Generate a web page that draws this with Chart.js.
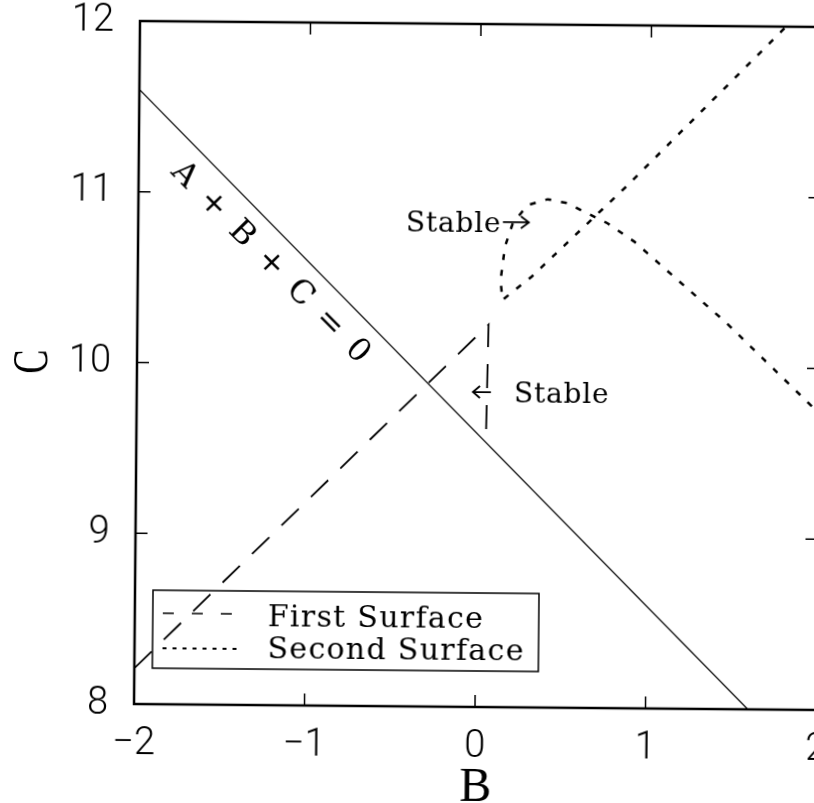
<!DOCTYPE html>
<html>
<head>
<meta charset="utf-8">
<title>C versus B</title>
<script src="https://cdn.jsdelivr.net/npm/chart.js@4.4.0/dist/chart.umd.min.js"></script>
<style>
    html, body { margin: 0; padding: 0; background: #fff; overflow: hidden; width: 814px; height: 803px; }
    /* the scanned figure sits slightly tilted */
    #wrap { position: absolute; left: 0; top: 0; width: 840px; height: 803px; transform: rotate(0.5deg); transform-origin: 478px 365px; }
    canvas { display: block; }
</style>
</head>
<body>
<div id="wrap"><canvas id="chart" width="840" height="803"></canvas></div>
<script>
// Axis ticks
const xTicks = [-2, -1, 0, 1, 2];
const yTicks = [8, 9, 10, 11, 12];

// A + B + C = 0 (solid)
const sumB = [-2.0, 1.6];
const sumC = [11.6, 8.0];

// First Surface (dashed)
const firstB = [-2.0, 0.06, 0.05];
const firstC = [8.21, 10.24, 9.56];

// Second Surface (dotted)
const secondB = [1.78, 0.86, 0.31, 0.14, 0.128, 0.152, 0.197, 0.283, 0.40, 0.517, 0.614, 0.753, 0.911, 1.167, 1.457, 2.0];
const secondC = [11.99, 11.055, 10.523, 10.385, 10.50, 10.697, 10.835, 10.942, 10.977, 10.955, 10.906, 10.839, 10.733, 10.511, 10.26, 9.74];

const seriesNames = ['A + B + C = 0', 'First Surface', 'Second Surface'];

const serif = '"DejaVu Serif", "Liberation Serif", serif';
const tickFont = { family: 'Roboto, "Liberation Sans", sans-serif', size: 38, weight: 300 };

function toPoints(xs, ys) {
    return xs.map((v, i) => ({ x: v, y: ys[i] }));
}

function fmt(v) {
    return v < 0 ? '\u2212' + Math.abs(v) : String(v);
}

// Frame, inward ticks, labels and legend
const annotate = {
    id: 'annotate',
    beforeDraw(chart) {
        const ctx = chart.ctx;
        ctx.save();
        ctx.fillStyle = '#fff';
        ctx.fillRect(0, 0, chart.width, chart.height);
        ctx.restore();
    },
    afterDraw(chart) {
        const { ctx, chartArea: a } = chart;
        const x = chart.scales.x, y = chart.scales.y;
        const ds = chart.data.datasets;
        ctx.save();
        ctx.strokeStyle = '#000';
        ctx.fillStyle = '#000';

        // frame
        ctx.lineWidth = 2.5;
        ctx.strokeRect(a.left, a.top, a.right - a.left, a.bottom - a.top);

        // inward ticks on all four sides
        const tl = 12;
        ctx.lineWidth = 1.5;
        ctx.beginPath();
        xTicks.slice(1, -1).forEach(v => {
            const px = x.getPixelForValue(v);
            ctx.moveTo(px, a.bottom); ctx.lineTo(px, a.bottom - tl);
            ctx.moveTo(px, a.top); ctx.lineTo(px, a.top + tl);
        });
        yTicks.slice(1, -1).forEach(v => {
            const py = y.getPixelForValue(v);
            ctx.moveTo(a.left, py); ctx.lineTo(a.left + tl, py);
            ctx.moveTo(a.right, py); ctx.lineTo(a.right - tl, py);
        });
        ctx.stroke();

        // axis titles
        ctx.font = '48px "Liberation Serif", serif';
        ctx.textAlign = 'center';
        ctx.textBaseline = 'alphabetic';
        ctx.fillText('B', x.getPixelForValue(0) + 1, 801);

        ctx.save();
        ctx.translate(a.left - 90, y.getPixelForValue(10));
        ctx.rotate(-Math.PI / 2);
        ctx.scale(0.72, 1);
        ctx.font = '50px "Liberation Serif", serif';
        ctx.fillText('C', 0, 0);
        ctx.restore();

        // A + B + C = 0 along the solid line
        ctx.save();
        ctx.translate(x.getPixelForValue(-1.219), y.getPixelForValue(10.584));
        ctx.rotate(Math.PI / 4);
        ctx.font = '32px ' + serif;
        ctx.letterSpacing = '3px';
        ctx.textAlign = 'center';
        ctx.textBaseline = 'middle';
        ctx.fillText(seriesNames[0], 0, 0);
        ctx.restore();

        // "Stable" notes
        ctx.font = '28px ' + serif;
        ctx.letterSpacing = '0.8px';
        ctx.textAlign = 'left';
        ctx.textBaseline = 'alphabetic';
        const sx1 = x.getPixelForValue(-0.43), sy1 = y.getPixelForValue(10.782);
        ctx.fillText('Stable', sx1, sy1);
        const sx2 = x.getPixelForValue(0.212), sy2 = y.getPixelForValue(9.786);
        ctx.fillText('Stable', sx2, sy2);
        ctx.letterSpacing = '0px';

        ctx.lineWidth = 1.8;
        // right arrow after the upper note
        let ax = sx1 + 97, ay = sy1 - 10;
        ctx.beginPath();
        ctx.moveTo(ax, ay); ctx.lineTo(ax + 26, ay);
        ctx.moveTo(ax + 18, ay - 6); ctx.lineTo(ax + 26, ay); ctx.lineTo(ax + 18, ay + 6);
        ctx.stroke();
        // left arrow before the lower note
        ax = sx2 - 23; ay = sy2 - 10;
        ctx.beginPath();
        ctx.moveTo(ax, ay); ctx.lineTo(ax - 18, ay);
        ctx.moveTo(ax - 11, ay - 6); ctx.lineTo(ax - 18, ay); ctx.lineTo(ax - 11, ay + 6);
        ctx.stroke();

        // legend box
        const lx = a.left + 18, ly = a.top + 569, lw = 386, lh = 78;
        ctx.lineWidth = 1.5;
        ctx.strokeRect(lx, ly, lw, lh);
        ctx.font = '30px ' + serif;
        ctx.letterSpacing = '1.3px';
        ctx.lineWidth = 1.6;
        ctx.setLineDash([11, 18]);
        ctx.beginPath();
        ctx.moveTo(lx + 10, ly + 23); ctx.lineTo(lx + 86, ly + 23);
        ctx.stroke();
        ctx.lineWidth = 2;
        ctx.setLineDash([4, 6]);
        ctx.beginPath();
        ctx.moveTo(lx + 10, ly + 58); ctx.lineTo(lx + 90, ly + 58);
        ctx.stroke();
        ctx.setLineDash([]);
        ctx.fillText(ds[1].label, lx + 115, ly + 35);
        ctx.fillText(ds[2].label, lx + 115, ly + 67);
        ctx.restore();
    }
};

new Chart(document.getElementById('chart').getContext('2d'), {
    type: 'scatter',
    data: {
        datasets: [{
            label: seriesNames[0],
            data: toPoints(sumB, sumC),
            showLine: true,
            borderColor: '#000',
            borderWidth: 1.2,
            pointRadius: 0,
            tension: 0
        }, {
            label: seriesNames[1],
            data: toPoints(firstB, firstC),
            showLine: true,
            borderColor: '#000',
            borderWidth: 1.8,
            borderDash: [24, 17],
            pointRadius: 0,
            tension: 0
        }, {
            label: seriesNames[2],
            data: toPoints(secondB, secondC),
            showLine: true,
            borderColor: '#000',
            borderWidth: 2.5,
            borderDash: [6, 10],
            pointRadius: 0,
            tension: 0
        }]
    },
    options: {
        responsive: false,
        animation: false,
        layout: { padding: { left: 0, top: 24, right: 21, bottom: 0 } },
        plugins: {
            legend: { display: false },
            tooltip: { enabled: false }
        },
        scales: {
            x: {
                type: 'linear',
                min: -2,
                max: 2,
                afterBuildTicks: s => { s.ticks = xTicks.map(v => ({ value: v })); },
                afterFit: s => { s.height = 96; s.paddingLeft = 0; s.paddingRight = 0; },
                grid: { display: false },
                border: { display: false },
                ticks: {
                    callback: v => fmt(v),
                    color: '#000',
                    padding: 10,
                    maxRotation: 0,
                    autoSkip: false,
                    font: tickFont
                }
            },
            y: {
                type: 'linear',
                min: 8,
                max: 12,
                afterBuildTicks: s => { s.ticks = yTicks.map(v => ({ value: v })); },
                afterFit: s => { s.width = 137; s.paddingTop = 0; s.paddingBottom = 0; },
                grid: { display: false },
                border: { display: false },
                ticks: {
                    callback: v => fmt(v),
                    color: '#000',
                    padding: 18,
                    autoSkip: false,
                    font: tickFont
                }
            }
        }
    },
    plugins: [annotate]
});
</script>
</body>
</html>
